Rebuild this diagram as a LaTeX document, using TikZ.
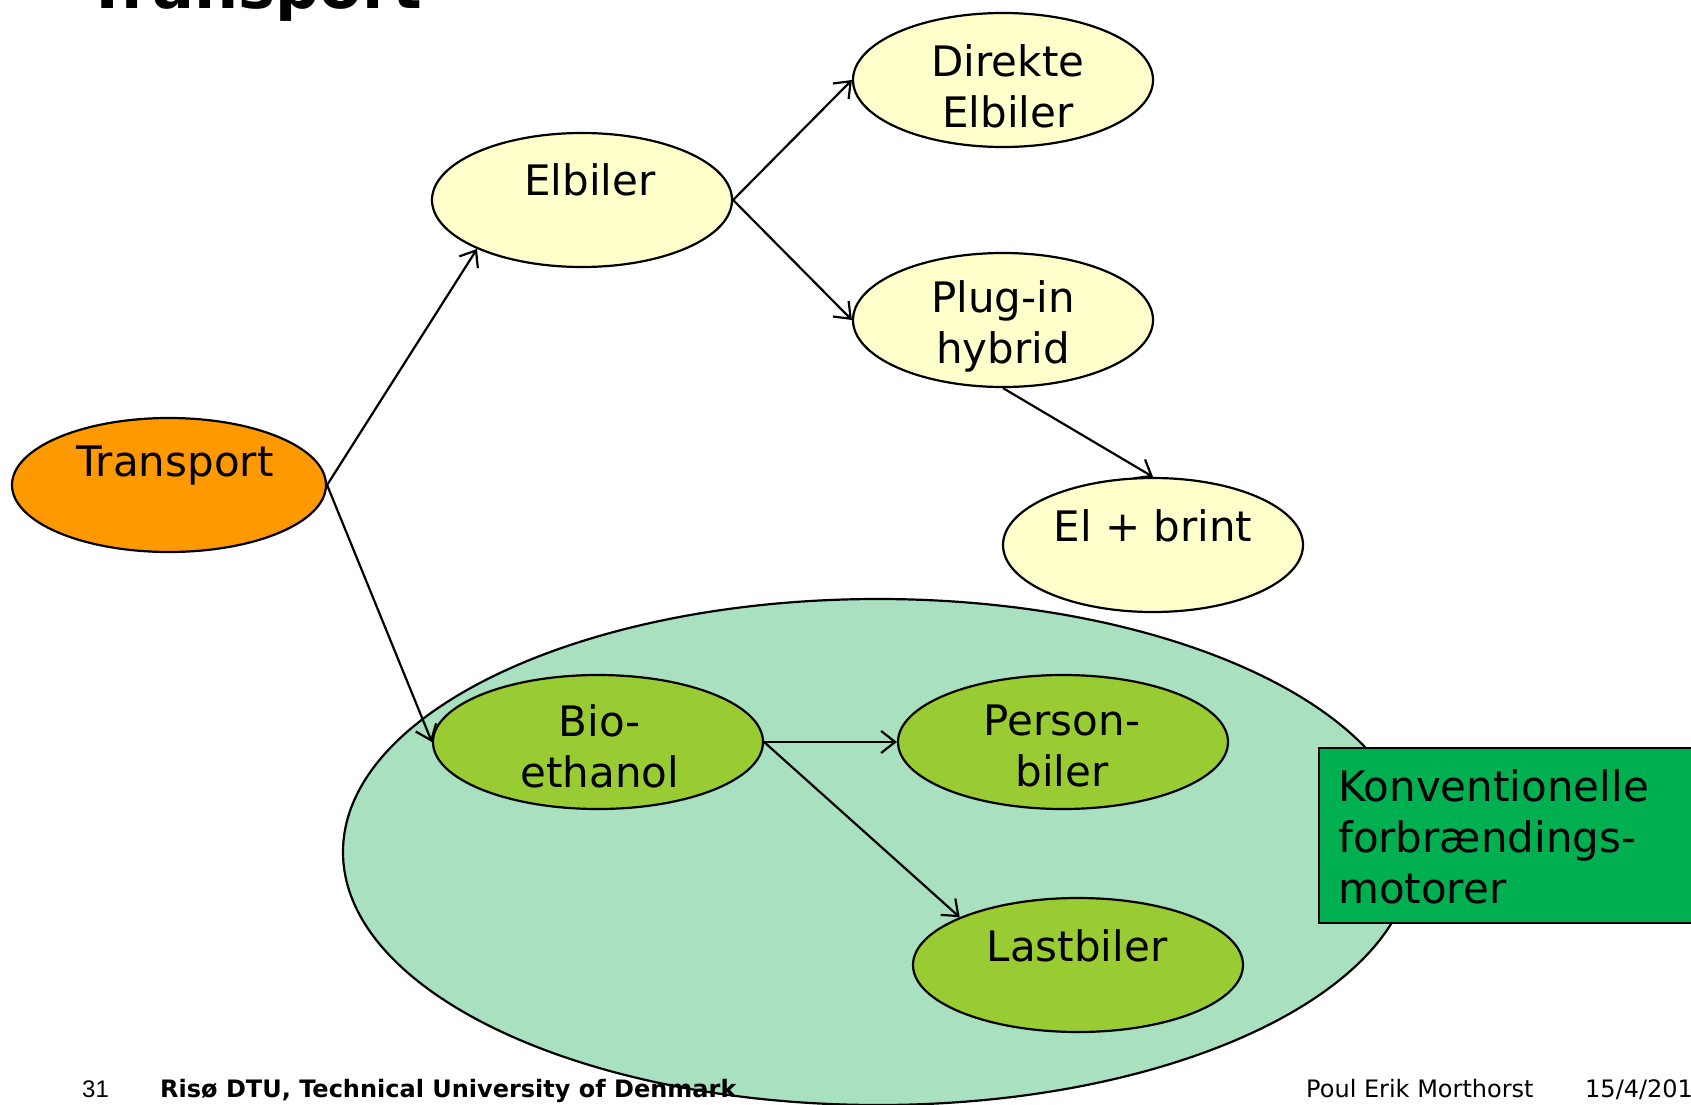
\documentclass[tikz,border=0pt]{standalone}
\usepackage{fontspec}
\setmainfont{DejaVu Sans}
\newfontfamily\footfont{Liberation Sans}
\usetikzlibrary{shapes.geometric,arrows.meta}
\definecolor{orangefill}{RGB}{255,153,0}
\definecolor{yellowfill}{RGB}{255,255,204}
\definecolor{limefill}{RGB}{153,204,51}
\definecolor{mintfill}{RGB}{168,224,192}
\definecolor{boxgreen}{RGB}{0,176,80}
\begin{document}
\begin{tikzpicture}[x=1pt,y=-1pt,
  ell/.style={ellipse, draw=black, line width=2.2pt, inner sep=0pt, minimum height=134pt},
  yell/.style={ell, fill=yellowfill, minimum width=300pt},
  gell/.style={ell, fill=limefill, minimum width=330pt},
  lbl/.style={font=\fontsize{42}{51}\selectfont, align=center, inner sep=0pt},
  conn/.style={line width=2.2pt, -{Straight Barb[length=14pt,width=22pt,line width=2.2pt]}},
  foot/.style={anchor=base west, inner sep=0pt}
]
\useasboundingbox (0,0) rectangle (1691,1105);
\clip (0,0) rectangle (1691,1105);

% title (cut off at the top)
\node[anchor=base west, inner sep=0pt, font=\fontsize{62}{62}\selectfont\bfseries] (title) at (86,9) {Transport};

% large zone
\node[ellipse, draw=black, line width=2.2pt, fill=mintfill, minimum width=1070pt, minimum height=506pt, inner sep=0pt] (zone) at (878,852) {};

% ellipses
\node[ell, fill=orangefill, minimum width=314pt] (tr) at (169,485) {};
\node[yell] (elb) at (582,200) {};
\node[yell] (dir) at (1003,80) {};
\node[yell] (plug) at (1003,320) {};
\node[yell] (brint) at (1153,545) {};
\node[gell] (bio) at (598,742) {};
\node[gell] (pers) at (1063,742) {};
\node[gell] (last) at (1078,965) {};

% labels
\node[lbl] (trt) at (175,466) {Transport};
\node[lbl] (elbt) at (590,180) {Elbiler};
\node[lbl] (dirt) at (1008,86) {Direkte\\Elbiler};
\node[lbl] (plugt) at (1003,326) {Plug-in\\hybrid};
\node[lbl] (brintt) at (1153,526) {El + brint};
\node[lbl] (biot) at (600,746) {Bio-\\ethanol};
\node[lbl] (perst) at (1062,746) {Person-\\biler};
\node[lbl] (lastt) at (1077,946) {Lastbiler};

% conventional box
\node[draw=black, line width=2.2pt, fill=boxgreen, anchor=north west, minimum width=400pt, minimum height=175pt, inner sep=0pt] (convbox) at (1318,747) {};
\node[lbl, align=left, anchor=west] (convt) at (1338,837) {Konventionelle\\forbrændings-\\motorer};

% connectors
\draw[conn] (tr.east) -- (elb.205);
\draw[conn] (tr.east) -- (bio.west);
\draw[conn] (elb.east) -- (dir.west);
\draw[conn] (elb.east) -- (plug.west);
\draw[conn] (plug.south) -- (brint.north);
\draw[conn] (bio.east) -- (pers.west);
\draw[conn] (bio.east) -- (last.158);

% footer
\node[foot, font=\footfont\fontsize{24}{24}\selectfont] (pg) at (82,1097) {31};
\node[foot, font=\fontsize{24}{24}\selectfont\bfseries] (org) at (160,1097) {Risø DTU, Technical University of Denmark};
\node[foot, font=\fontsize{24}{24}\selectfont] (auth) at (1306,1097) {Poul Erik Morthorst};
\node[foot, font=\fontsize{24}{24}\selectfont] (date) at (1585,1097) {15/4/2010};
\end{tikzpicture}
\end{document}
